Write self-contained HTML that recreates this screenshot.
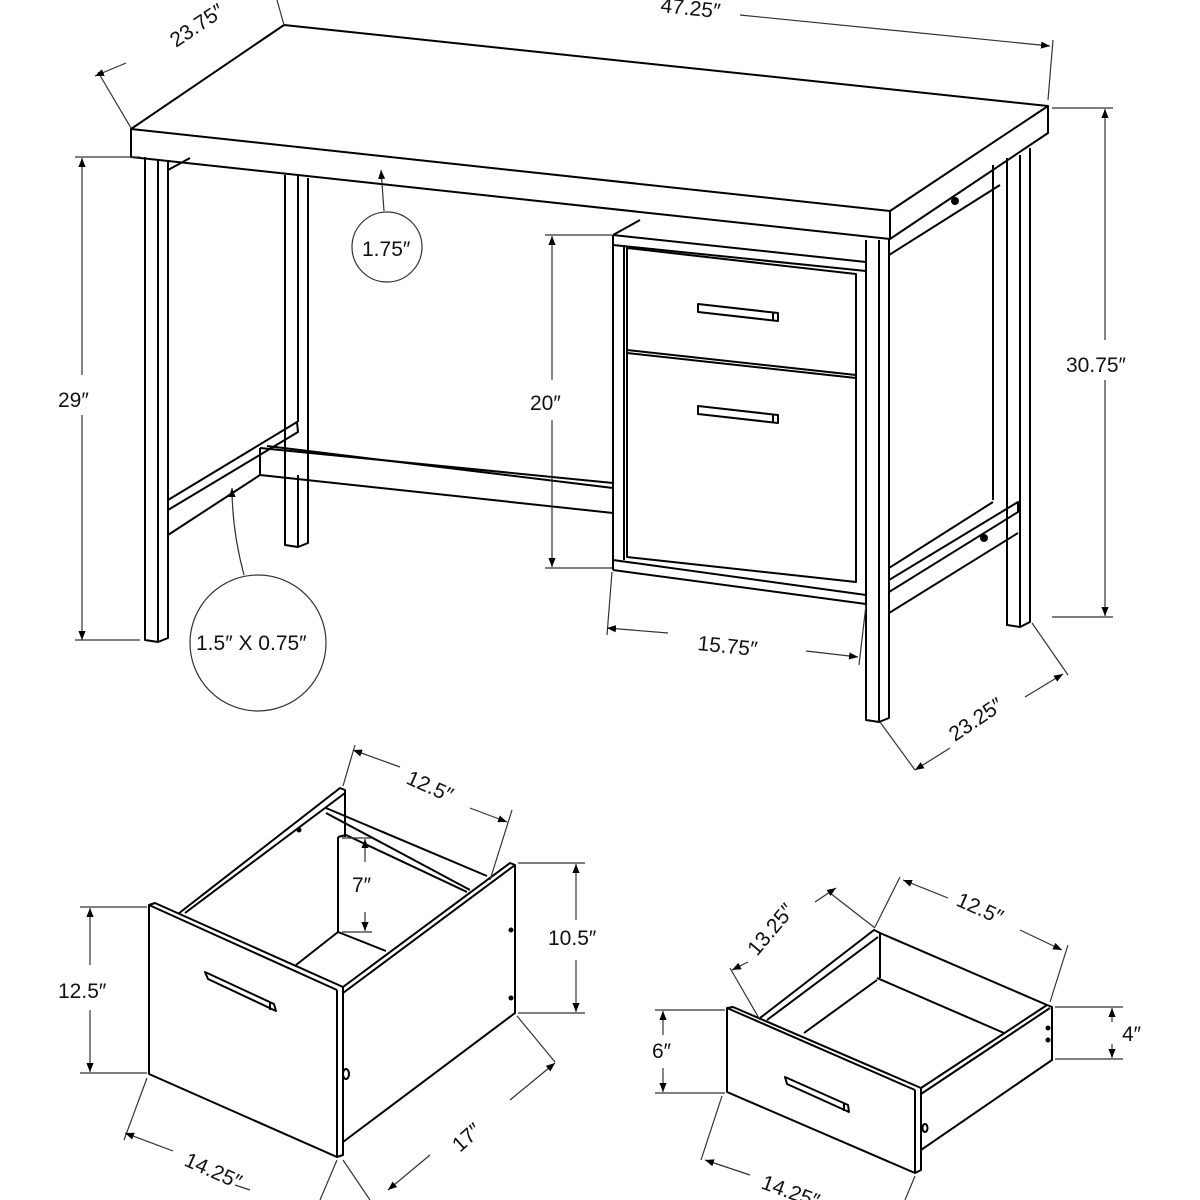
<!DOCTYPE html>
<html><head><meta charset="utf-8"><style>
html,body{margin:0;padding:0;background:#fff;width:1200px;height:1200px;overflow:hidden}
svg{display:block}
text{font-family:"Liberation Sans",sans-serif;font-size:21px;fill:#111}
</style></head><body>
<svg width="1200" height="1200" viewBox="0 0 1200 1200" xmlns="http://www.w3.org/2000/svg">
<defs>
<marker id="a" viewBox="0 0 10 10" refX="10" refY="5" markerWidth="9" markerHeight="9" orient="auto-start-reverse" markerUnits="userSpaceOnUse"><path d="M0,1 L10,5 L0,9 z" fill="#000"/></marker>
</defs>
<g fill="none" stroke="#000" stroke-width="2" stroke-linejoin="round">
<!-- desktop -->
<path d="M131,129 L284,25 L1048,106 L890,211 Z" fill="#fff"/>
<path d="M131,129 L131,157 L890,239 L890,211"/>
<path d="M890,239 L1048,133 L1048,106"/>
<!-- left front leg -->
<path d="M145,157 L145,640 L158,642 L168,638 L168,160"/>
<path d="M158,160 L158,642"/>
<!-- left back leg -->
<path d="M285,175 L285,545 L298,547 L308,543 L308,178"/>
<path d="M298,176 L298,422"/><path d="M298,475 L298,547"/>
<!-- left braces -->
<path d="M168,170 L190,158"/>
<path d="M168,500 L297,422 L298,432 L168,510"/>
<path d="M168,535 L260,475"/>
<!-- front stretcher -->
<path d="M260,448 L260,475 L613,513"/>
<path d="M260,448 L613,483"/><path d="M267,446 L613,488"/>
<!-- pedestal -->
<path d="M613,235 L640,220"/>
<path d="M613,235 L866,262"/><path d="M613,245 L866,271"/>
<path d="M613,235 L613,570"/><path d="M624,245 L624,560"/>
<path d="M627,248 L856,274 L856,582 L627,557 Z"/>
<path d="M627,350 L856,375"/><path d="M627,353 L856,378"/>
<path d="M613,560 L866,595"/><path d="M613,570 L866,604"/>
<path d="M866,270 L866,604"/>
<!-- handles -->
<path d="M698,304 L778,313 L778,321 L698,312 Z"/><path d="M773,313 L773,321"/>
<path d="M698,406 L778,415 L778,423 L698,414 Z"/><path d="M773,415 L773,423"/>
<!-- right front leg -->
<path d="M866,240 L866,720 L879,722 L889,718 L889,238"/>
<path d="M879,240 L879,722"/>
<!-- right back leg -->
<path d="M1007,158 L1007,625 L1020,627 L1030,622 L1030,148"/>
<path d="M1020,155 L1020,627"/>
<path d="M993,165 L993,500"/>
<!-- right side braces -->
<path d="M889,255 L1000,185"/>
<path d="M889,568 L993,502"/><path d="M889,580 L1018,502 L1018,512 L889,592"/>
<path d="M889,613 L1018,533"/>
<circle cx="955" cy="201" r="3" fill="#000"/>
<circle cx="984" cy="538" r="3" fill="#000"/>

<!-- file drawer -->
<path d="M149,905 L155,903 L343,987 L343,1155 L337,1157 L149,1074 Z" fill="#fff"/>
<path d="M337,990 L337,1157"/><path d="M149,905 L337,990"/>
<path d="M343,987 L510,863 L515,865 L515,1013 L343,1142"/>
<path d="M343,993 L515,865"/>
<path d="M178,914 L340,788 L345,790 L345,837"/>
<path d="M185,913 L345,793"/>
<path d="M326,808 L487,876"/><path d="M326,813 L470,890"/>
<path d="M338,837 L338,932 L386,951"/>
<path d="M338,837 L346,835 L467,892"/>
<path d="M296,965 L338,932"/>
<path d="M205,972 L274,1004 L276,1011 L208,979 Z"/><path d="M270,1003 L270,1010"/>
<circle cx="299" cy="830" r="1.5" fill="#000"/>
<circle cx="511" cy="930" r="1.5" fill="#000"/>
<circle cx="511" cy="998" r="1.5" fill="#000"/>
<ellipse cx="346" cy="1074" rx="3" ry="5"/>

<!-- small drawer -->
<path d="M727,1008 L733,1007 L921,1088 L921,1170 L915,1173 L727,1092 Z" fill="#fff"/>
<path d="M915,1090 L915,1173"/><path d="M727,1008 L915,1090"/>
<path d="M921,1088 L1047,1005 L1052,1007 L1052,1060 L921,1150"/>
<path d="M921,1094 L1050,1008"/>
<path d="M760,1018 L874,930 L880,933 L880,978"/>
<path d="M767,1020 L878,937"/>
<path d="M880,933 L1047,1005"/>
<path d="M877,978 L1004,1033"/><path d="M804,1033 L877,980"/>
<path d="M785,1077 L848,1105 L849,1112 L787,1084 Z"/><path d="M844,1104 L844,1111"/>
<circle cx="1048" cy="1028" r="1.5" fill="#000"/><circle cx="1048" cy="1040" r="1.5" fill="#000"/>
<ellipse cx="925" cy="1128" rx="2.5" ry="4"/>
</g>

<!-- dimension lines -->
<g fill="none" stroke="#333" stroke-width="1.2">
<!-- 23.75 -->
<path d="M131,128 L98,72"/><path d="M284,25 L277,0"/>
<path d="M126,63 L95,76" marker-end="url(#a)"/>
<!-- 47.25 -->
<path d="M1048,100 L1053,40"/>
<path d="M740,15 L1050,46" marker-end="url(#a)"/>
<!-- 29 -->
<path d="M75,157 L140,157"/><path d="M75,640 L140,640"/>
<path d="M82,158 L82,375" marker-start="url(#a)"/><path d="M82,415 L82,640" marker-end="url(#a)"/>
<!-- 30.75 -->
<path d="M1052,108 L1113,108"/><path d="M1052,617 L1113,617"/>
<path d="M1105,109 L1105,340" marker-start="url(#a)"/><path d="M1105,380 L1105,616" marker-end="url(#a)"/>
<!-- 20 -->
<path d="M545,235 L612,235"/><path d="M545,568 L612,568"/>
<path d="M552,236 L552,380" marker-start="url(#a)"/><path d="M552,420 L552,567" marker-end="url(#a)"/>
<!-- 1.75 -->
<circle cx="387" cy="247" r="35"/>
<path d="M384,211 L381,170" marker-end="url(#a)"/>
<!-- 1.5x0.75 -->
<circle cx="258" cy="643" r="68"/>
<path d="M244,575 Q232,530 232,488" marker-end="url(#a)"/>
<!-- 15.75 -->
<path d="M612,572 L607,635"/><path d="M866,605 L859,665"/>
<path d="M668,633 L607,628" marker-end="url(#a)"/><path d="M806,651 L858,657" marker-end="url(#a)"/>
<!-- 23.25 -->
<path d="M880,722 L915,770"/><path d="M1032,623 L1068,675"/>
<path d="M950,748 L915,770" marker-end="url(#a)"/><path d="M1025,697 L1063,674" marker-end="url(#a)"/>
<!-- file drawer dims -->
<path d="M343,786 L355,745"/><path d="M490,880 L512,810"/>
<path d="M400,767 L353,750" marker-end="url(#a)"/><path d="M470,808 L507,822" marker-end="url(#a)"/>
<path d="M518,863 L585,863"/><path d="M518,1013 L585,1013"/>
<path d="M576,864 L576,920" marker-start="url(#a)"/><path d="M576,960 L576,1012" marker-end="url(#a)"/>
<path d="M80,907 L147,907"/><path d="M80,1073 L147,1073"/>
<path d="M90,908 L90,965" marker-start="url(#a)"/><path d="M90,1010 L90,1072" marker-end="url(#a)"/>
<path d="M342,838 L372,838"/><path d="M342,932 L372,932"/>
<path d="M365,862 L365,839" marker-end="url(#a)"/><path d="M365,912 L365,931" marker-end="url(#a)"/>
<path d="M147,1078 L124,1140"/><path d="M337,1160 L320,1200"/>
<path d="M173,1151 L125,1133" marker-end="url(#a)"/><path d="M235,1185 L250,1190"/>
<path d="M517,1016 L555,1062"/><path d="M343,1160 L370,1200"/>
<path d="M510,1100 L555,1063" marker-end="url(#a)"/><path d="M430,1155 L388,1190" marker-end="url(#a)"/>
<!-- small drawer dims -->
<path d="M875,927 L900,877"/><path d="M1050,1002 L1068,945"/>
<path d="M948,898 L903,880" marker-end="url(#a)"/><path d="M1020,930 L1062,950" marker-end="url(#a)"/>
<path d="M830,893 L875,928"/><path d="M730,968 L760,1020"/>
<path d="M815,902 L836,888" marker-end="url(#a)"/><path d="M748,962 L732,970" marker-end="url(#a)"/>
<path d="M655,1010 L725,1010"/><path d="M655,1093 L725,1093"/>
<path d="M663,1011 L663,1035" marker-start="url(#a)"/><path d="M663,1068 L663,1092" marker-end="url(#a)"/>
<path d="M1055,1007 L1123,1007"/><path d="M1055,1059 L1123,1059"/>
<path d="M1112,1008 L1112,1022" marker-start="url(#a)"/><path d="M1112,1044 L1112,1058" marker-end="url(#a)"/>
<path d="M722,1096 L701,1160"/><path d="M915,1176 L905,1200"/>
<path d="M750,1175 L705,1160" marker-end="url(#a)"/>
</g>

<!-- labels -->
<text x="176" y="48" transform="rotate(-34 176 48)" font-size="22">23.75″</text>
<text x="660" y="12" font-size="22" transform="rotate(6 660 12)">47.25″</text>
<text x="58" y="407" font-size="22">29″</text>
<text x="1066" y="372" font-size="22">30.75″</text>
<text x="530" y="410" font-size="22">20″</text>
<text x="362" y="256" font-size="22">1.75″</text>
<text x="196" y="650" font-size="22">1.5″ X 0.75″</text>
<text x="697" y="650" font-size="22" transform="rotate(6 697 650)">15.75″</text>
<text x="955" y="742" font-size="22" transform="rotate(-34 955 742)">23.25″</text>
<text x="405" y="783" font-size="22" transform="rotate(24 405 783)">12.5″</text>
<text x="548" y="945" font-size="22">10.5″</text>
<text x="58" y="998" font-size="22">12.5″</text>
<text x="352" y="892" font-size="22">7″</text>
<text x="460" y="1153" font-size="22" transform="rotate(-42 460 1153)">17″</text>
<text x="183" y="1165" font-size="22" transform="rotate(24 183 1165)">14.25″</text>
<text x="955" y="905" font-size="22" transform="rotate(24 955 905)">12.5″</text>
<text x="757" y="957" font-size="22" transform="rotate(-50 757 957)">13.25″</text>
<text x="652" y="1058" font-size="22">6″</text>
<text x="1122" y="1041" font-size="22">4″</text>
<text x="760" y="1188" font-size="22" transform="rotate(20 760 1188)">14.25″</text>
</g>
</svg>
</body></html>
